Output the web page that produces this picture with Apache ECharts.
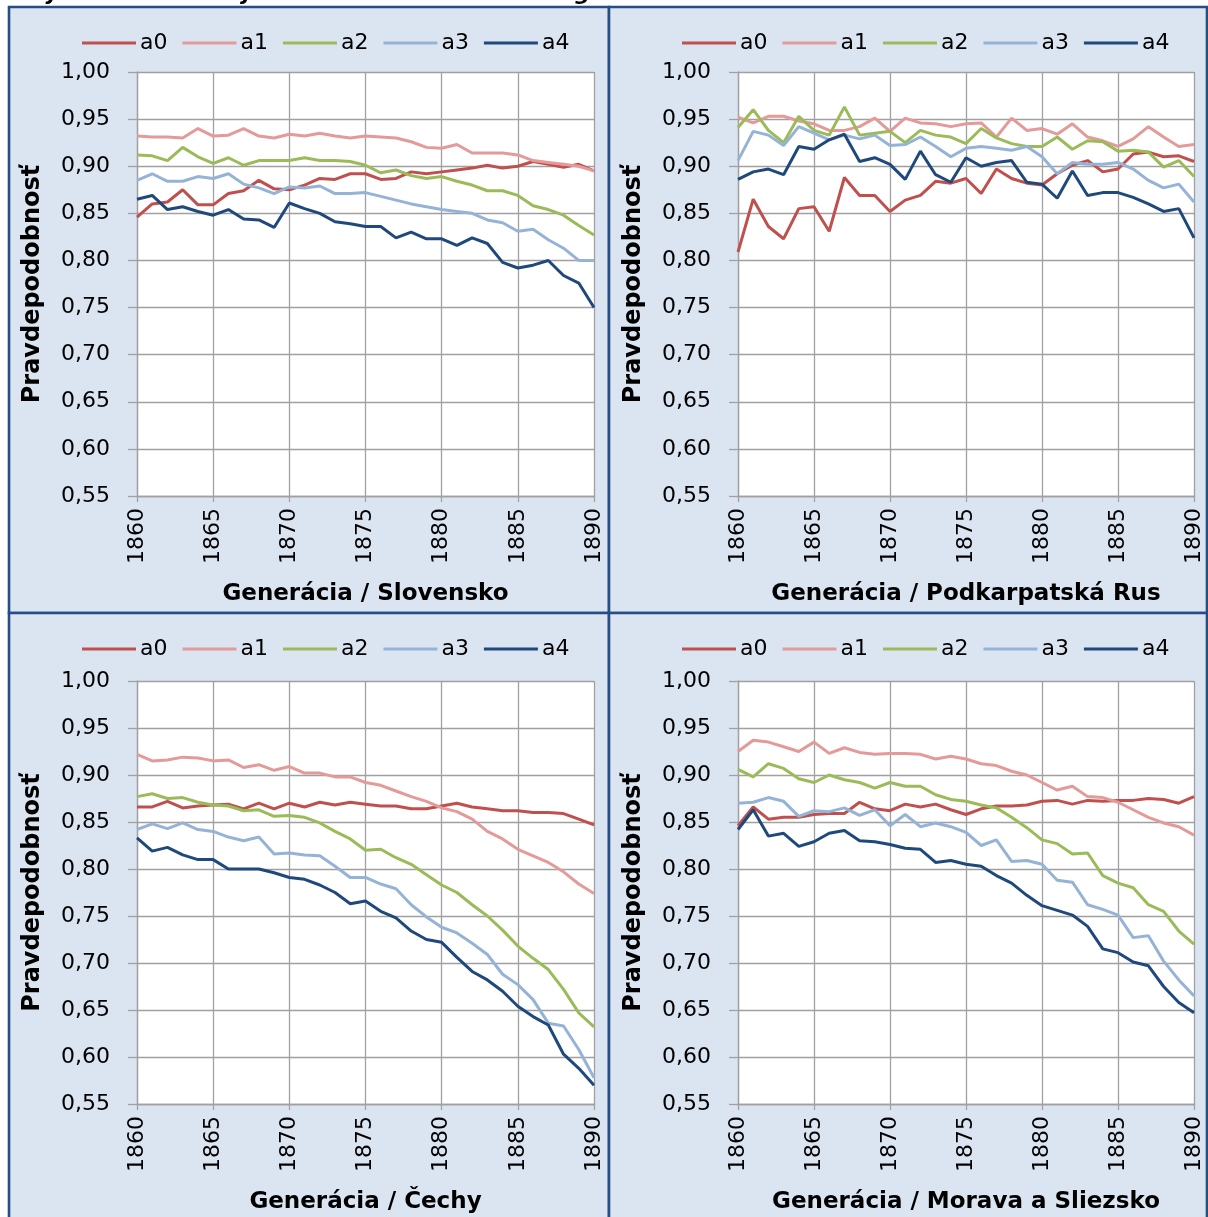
<!DOCTYPE html>
<html><head><meta charset="utf-8">
<script src="https://cdn.jsdelivr.net/npm/echarts@6/dist/echarts.min.js"></script>
<style>html,body{margin:0;padding:0;background:#fff}#c{width:1208px;height:1217px}</style>
</head><body><div id="c"></div>
<script>
var years = [1860,1861,1862,1863,1864,1865,1866,1867,1868,1869,1870,1871,1872,1873,1874,1875,1876,1877,1878,1879,1880,1881,1882,1883,1884,1885,1886,1887,1888,1889,1890];
var seriesNames = ['a0','a1','a2','a3','a4'];
var regions = ['Slovensko','Podkarpatská Rus','Čechy','Morava a Sliezsko'];
var yTicks = [0.55,0.60,0.65,0.70,0.75,0.80,0.85,0.90,0.95,1.00];
var xTicks = [1860,1865,1870,1875,1880,1885,1890];

var slovensko_a0 = [0.846,0.860,0.862,0.875,0.859,0.859,0.871,0.874,0.885,0.876,0.875,0.880,0.887,0.886,0.892,0.892,0.886,0.887,0.894,0.892,0.894,0.896,0.898,0.901,0.898,0.900,0.905,0.902,0.899,0.902,0.895];
var slovensko_a1 = [0.932,0.931,0.931,0.930,0.940,0.932,0.933,0.940,0.932,0.930,0.934,0.932,0.935,0.932,0.930,0.932,0.931,0.930,0.926,0.920,0.919,0.923,0.914,0.914,0.914,0.912,0.906,0.904,0.902,0.900,0.895];
var slovensko_a2 = [0.912,0.911,0.906,0.920,0.910,0.903,0.909,0.901,0.906,0.906,0.906,0.909,0.906,0.906,0.905,0.901,0.893,0.896,0.890,0.887,0.889,0.884,0.880,0.874,0.874,0.869,0.858,0.854,0.848,0.837,0.827];
var slovensko_a3 = [0.885,0.892,0.884,0.884,0.889,0.887,0.892,0.881,0.877,0.871,0.878,0.877,0.879,0.871,0.871,0.872,0.868,0.864,0.860,0.857,0.854,0.852,0.850,0.843,0.840,0.831,0.833,0.822,0.813,0.800,0.800];
var slovensko_a4 = [0.865,0.869,0.854,0.857,0.852,0.848,0.854,0.844,0.843,0.835,0.861,0.855,0.850,0.841,0.839,0.836,0.836,0.824,0.830,0.823,0.823,0.816,0.824,0.818,0.798,0.792,0.795,0.800,0.784,0.776,0.750];

var rus_a0 = [0.809,0.865,0.836,0.823,0.855,0.857,0.831,0.888,0.869,0.869,0.852,0.864,0.869,0.884,0.882,0.887,0.871,0.897,0.887,0.882,0.880,0.892,0.901,0.906,0.894,0.897,0.913,0.915,0.910,0.911,0.905];
var rus_a1 = [0.952,0.946,0.953,0.953,0.948,0.945,0.938,0.938,0.942,0.951,0.937,0.951,0.946,0.945,0.942,0.945,0.946,0.931,0.951,0.938,0.940,0.934,0.945,0.931,0.927,0.921,0.929,0.942,0.931,0.921,0.923];
var rus_a2 = [0.941,0.960,0.938,0.925,0.953,0.938,0.933,0.963,0.933,0.935,0.937,0.925,0.938,0.933,0.931,0.924,0.940,0.930,0.924,0.921,0.921,0.931,0.918,0.927,0.926,0.916,0.917,0.915,0.899,0.906,0.889];
var rus_a3 = [0.906,0.937,0.933,0.922,0.942,0.935,0.928,0.933,0.929,0.933,0.922,0.923,0.931,0.921,0.910,0.919,0.921,0.919,0.917,0.921,0.910,0.892,0.904,0.902,0.902,0.904,0.897,0.885,0.877,0.881,0.862];
var rus_a4 = [0.886,0.894,0.897,0.891,0.921,0.918,0.928,0.934,0.905,0.909,0.902,0.886,0.916,0.891,0.883,0.909,0.900,0.904,0.906,0.883,0.881,0.866,0.895,0.869,0.872,0.872,0.867,0.860,0.852,0.855,0.824];

var cechy_a0 = [0.866,0.866,0.872,0.865,0.867,0.868,0.869,0.864,0.870,0.864,0.870,0.866,0.871,0.868,0.871,0.869,0.867,0.867,0.864,0.864,0.867,0.870,0.866,0.864,0.862,0.862,0.860,0.860,0.859,0.853,0.847];
var cechy_a1 = [0.922,0.915,0.916,0.919,0.918,0.915,0.916,0.908,0.911,0.905,0.909,0.902,0.902,0.898,0.898,0.892,0.889,0.883,0.877,0.872,0.865,0.861,0.853,0.840,0.832,0.821,0.814,0.807,0.797,0.784,0.774];
var cechy_a2 = [0.877,0.880,0.875,0.876,0.871,0.868,0.867,0.862,0.863,0.856,0.857,0.855,0.849,0.840,0.832,0.820,0.821,0.812,0.805,0.794,0.783,0.775,0.762,0.750,0.735,0.718,0.705,0.693,0.672,0.647,0.632];
var cechy_a3 = [0.842,0.848,0.843,0.849,0.842,0.840,0.834,0.830,0.834,0.816,0.817,0.815,0.814,0.803,0.791,0.791,0.784,0.779,0.762,0.749,0.738,0.732,0.721,0.709,0.688,0.677,0.661,0.636,0.633,0.608,0.578];
var cechy_a4 = [0.833,0.819,0.823,0.815,0.810,0.810,0.800,0.800,0.800,0.796,0.791,0.789,0.783,0.775,0.763,0.766,0.755,0.748,0.734,0.725,0.722,0.706,0.691,0.682,0.670,0.654,0.643,0.634,0.603,0.588,0.570];

var morava_a0 = [0.846,0.866,0.853,0.855,0.855,0.858,0.859,0.859,0.871,0.864,0.862,0.869,0.866,0.869,0.863,0.858,0.864,0.867,0.867,0.868,0.872,0.873,0.869,0.873,0.872,0.873,0.873,0.875,0.874,0.870,0.877];
var morava_a1 = [0.925,0.937,0.935,0.930,0.925,0.935,0.923,0.929,0.924,0.922,0.923,0.923,0.922,0.917,0.920,0.917,0.912,0.910,0.904,0.900,0.892,0.884,0.888,0.877,0.876,0.871,0.863,0.855,0.849,0.845,0.836];
var morava_a2 = [0.906,0.898,0.912,0.907,0.896,0.892,0.900,0.895,0.892,0.886,0.892,0.888,0.888,0.879,0.874,0.872,0.868,0.865,0.855,0.844,0.831,0.827,0.816,0.817,0.793,0.785,0.780,0.762,0.755,0.734,0.720];
var morava_a3 = [0.870,0.871,0.876,0.872,0.856,0.862,0.861,0.865,0.857,0.863,0.846,0.858,0.845,0.849,0.845,0.839,0.825,0.831,0.808,0.809,0.805,0.788,0.786,0.762,0.757,0.751,0.727,0.729,0.702,0.682,0.665];
var morava_a4 = [0.842,0.863,0.835,0.838,0.824,0.829,0.838,0.841,0.830,0.829,0.826,0.822,0.821,0.807,0.809,0.805,0.803,0.793,0.785,0.772,0.761,0.756,0.751,0.739,0.715,0.711,0.701,0.697,0.675,0.658,0.647];

var panelData = [
  [slovensko_a0, slovensko_a1, slovensko_a2, slovensko_a3, slovensko_a4],
  [rus_a0, rus_a1, rus_a2, rus_a3, rus_a4],
  [cechy_a0, cechy_a1, cechy_a2, cechy_a3, cechy_a4],
  [morava_a0, morava_a1, morava_a2, morava_a3, morava_a4]
];
var colors = ['#C0504D','#E39A99','#9BBB59','#95B3D7','#1F497D'];

var FONT = 'DejaVu Sans, Verdana, sans-serif';
var panels = [
  {x:9, y:7, w:600, h:606, gl:137, gt:72, gw:457, gh:424},
  {x:609, y:7, w:598, h:606, gl:738, gt:72, gw:456, gh:424},
  {x:9, y:613, w:600, h:606, gl:137, gt:681, gw:457, gh:423},
  {x:609, y:613, w:598, h:606, gl:738, gt:681, gw:456, gh:423}
];

var option = {
  animation: false,
  color: colors,
  grid: [], xAxis: [], yAxis: [], series: [], legend: [],
  graphic: { elements: [] }
};

panels.forEach(function(p, k){
  option.graphic.elements.push({
    type:'rect', z:-10, silent:true,
    shape:{x:p.x, y:p.y, width:p.w, height:p.h},
    style:{fill:'#DBE5F1', stroke:'#254E86', lineWidth:2.6}
  });
  option.grid.push({left:p.gl, top:p.gt, width:p.gw, height:p.gh, show:true,
    backgroundColor:'#ffffff', borderWidth:0, containLabel:false});
  option.xAxis.push({
    type:'value', gridIndex:k, min:xTicks[0], max:xTicks[xTicks.length-1], interval:5,
    name:'Generácia / ' + regions[k], nameLocation:'middle', nameGap:87,
    nameTextStyle:{fontFamily:FONT, fontSize:23, fontWeight:'bold', color:'#000'},
    axisLine:{show:true, lineStyle:{color:'#A0A0A0', width:1.3}},
    axisTick:{show:true, length:6, lineStyle:{color:'#A0A0A0', width:1.3}},
    axisLabel:{rotate:90, margin:12, fontFamily:FONT, fontSize:22, color:'#000',
      formatter:function(v){return String(v);}},
    splitLine:{show:true, lineStyle:{color:'#A0A0A0', width:1.3}}
  });
  option.yAxis.push({
    type:'value', gridIndex:k, min:yTicks[0], max:yTicks[yTicks.length-1], interval:0.05,
    name:'Pravdepodobnosť', nameLocation:'middle', nameGap:92,
    nameTextStyle:{fontFamily:FONT, fontSize:24, fontWeight:'bold', color:'#000'},
    axisLine:{show:true, lineStyle:{color:'#A0A0A0', width:1.3}},
    axisTick:{show:true, length:9, lineStyle:{color:'#A0A0A0', width:1.3}},
    axisLabel:{margin:27, fontFamily:FONT, fontSize:22, color:'#000',
      formatter:function(v){return v.toFixed(2).replace('.', ',');}},
    splitLine:{show:true, lineStyle:{color:'#A0A0A0', width:1.3}}
  });
  option.legend.push({
    left:p.x + 68, top:p.y + 20, orient:'horizontal',
    data:seriesNames, icon:'rect', itemWidth:54, itemHeight:3, itemGap:15,
    textStyle:{fontFamily:FONT, fontSize:22, color:'#000', padding:[0,0,0,-1]},
    selectedMode:false
  });
  panelData[k].forEach(function(vals, s){
    option.series.push({
      name:seriesNames[s], type:'line', xAxisIndex:k, yAxisIndex:k,
      data: years.map(function(y, i){ return [y, vals[i]]; }),
      showSymbol:false, symbol:'none', lineStyle:{width:3, color:colors[s]},
      itemStyle:{color:colors[s]}, silent:true, z:2+s
    });
  });
});

option.graphic.elements.push({
  type:'text', z:10, left:8, top:-17, silent:true,
  style:{text:'krajinách medzi-vojnového Československa v generáciách 1860 – 1890',
    font:'italic bold 22px ' + FONT, fill:'#000'}
});

var chart = echarts.init(document.getElementById('c'), null, {renderer:'canvas'});
chart.setOption(option);
</script>
</body></html>
